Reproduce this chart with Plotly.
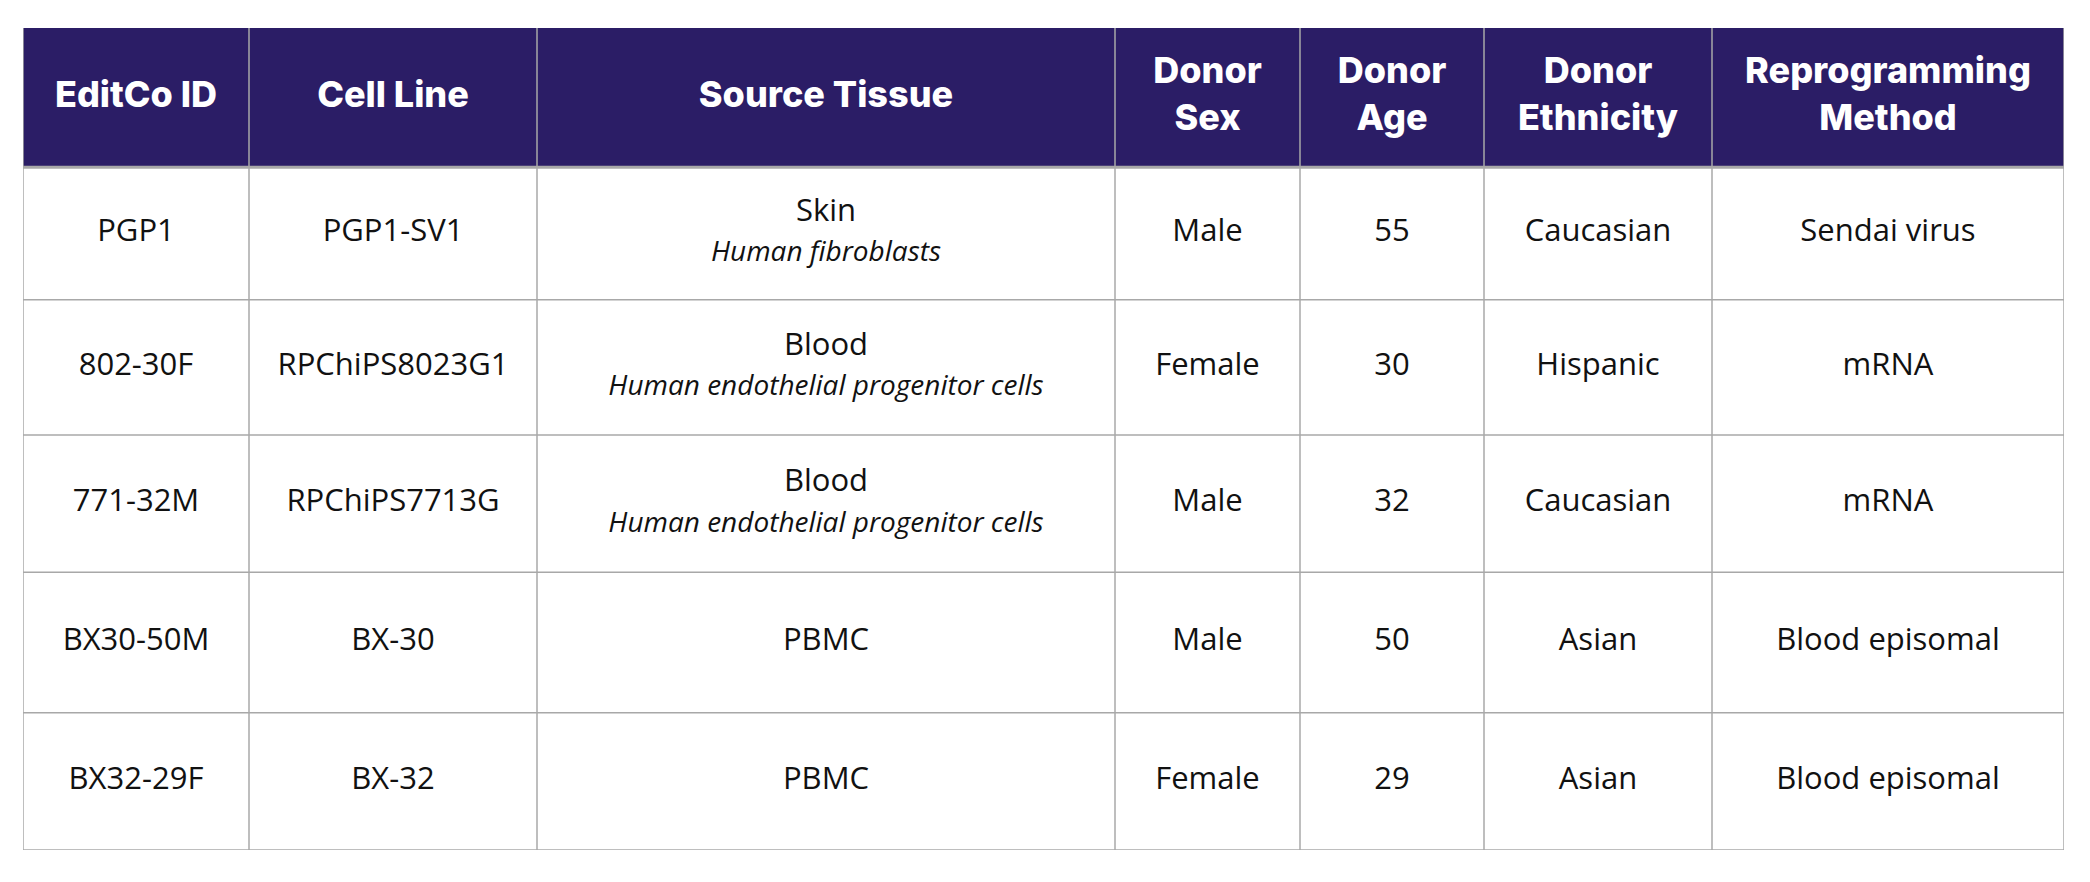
import plotly.graph_objects as go

headers = ["EditCo ID", "Cell Line", "Source Tissue", "Donor<br>Sex", "Donor<br>Age",
           "Donor<br>Ethnicity", "Reprogramming<br>Method"]
editco_id = ["PGP1", "802-30F", "771-32M", "BX30-50M", "BX32-29F"]
cell_line = ["PGP1-SV1", "RPChiPS8023G1", "RPChiPS7713G", "BX-30", "BX-32"]
tissue = ["Skin", "Blood", "Blood", "PBMC", "PBMC"]
tissue_sub = ["Human fibroblasts", "Human endothelial progenitor cells",
              "Human endothelial progenitor cells", "", ""]
sex = ["Male", "Female", "Male", "Male", "Female"]
age = [55, 30, 32, 50, 29]
ethnicity = ["Caucasian", "Hispanic", "Caucasian", "Asian", "Asian"]
method = ["Sendai virus", "mRNA", "mRNA", "Blood episomal", "Blood episomal"]

col_widths = [226, 288, 578, 185, 184, 228, 352]
header_h = 139
row_h = [132, 135, 137, 140, 137]

edges = [0]
for w in col_widths:
    edges.append(edges[-1] + w)
centers = [(edges[i] + edges[i + 1]) / 2 for i in range(len(col_widths))]
yedges = [0, header_h]
for h in row_h:
    yedges.append(yedges[-1] + h)
ymid = [(yedges[i + 1] + yedges[i + 2]) / 2 for i in range(len(row_h))]
total_w, total_h = edges[-1], yedges[-1]

tissue_txt = [t + ("<br><i><span style='font-size:28px'>" + s + "</span></i>" if s else "")
              for t, s in zip(tissue, tissue_sub)]
columns = [editco_id, cell_line, tissue_txt, sex, [str(a) for a in age], ethnicity, method]

HEAD = "#2b1d66"
GRID = "#a8a8a8"
fig = go.Figure()
fig.add_shape(type="rect", x0=0, x1=total_w, y0=0, y1=header_h, fillcolor=HEAD,
              line_width=0, layer="below")
fig.add_trace(go.Scatter(x=centers, y=[header_h / 2] * 7, mode="text",
                         text=headers,
                         textfont=dict(family="Inter", size=36, color="white", weight=800),
                         hoverinfo="skip"))
for ci, col in enumerate(columns):
    fig.add_trace(go.Scatter(x=[centers[ci]] * len(col), y=ymid, mode="text", text=col,
                             textfont=dict(family="Open Sans", size=31, color="#111111"),
                             hoverinfo="skip"))
for x in edges:
    fig.add_shape(type="line", x0=x, x1=x, y0=0, y1=total_h, line=dict(color=GRID, width=1.5))
for i, y in enumerate(yedges[1:]):
    fig.add_shape(type="line", x0=0, x1=total_w, y0=y, y1=y,
                  line=dict(color=GRID, width=3 if i == 0 else 1.5))

fig.update_layout(width=2074, height=866, margin=dict(l=15, r=18, t=20, b=24),
                  showlegend=False, plot_bgcolor="white", paper_bgcolor="white",
                  xaxis=dict(range=[0, total_w], visible=False, fixedrange=True),
                  yaxis=dict(range=[total_h, 0], visible=False, fixedrange=True))
fig.write_html("out.html", config={"displayModeBar": False})
